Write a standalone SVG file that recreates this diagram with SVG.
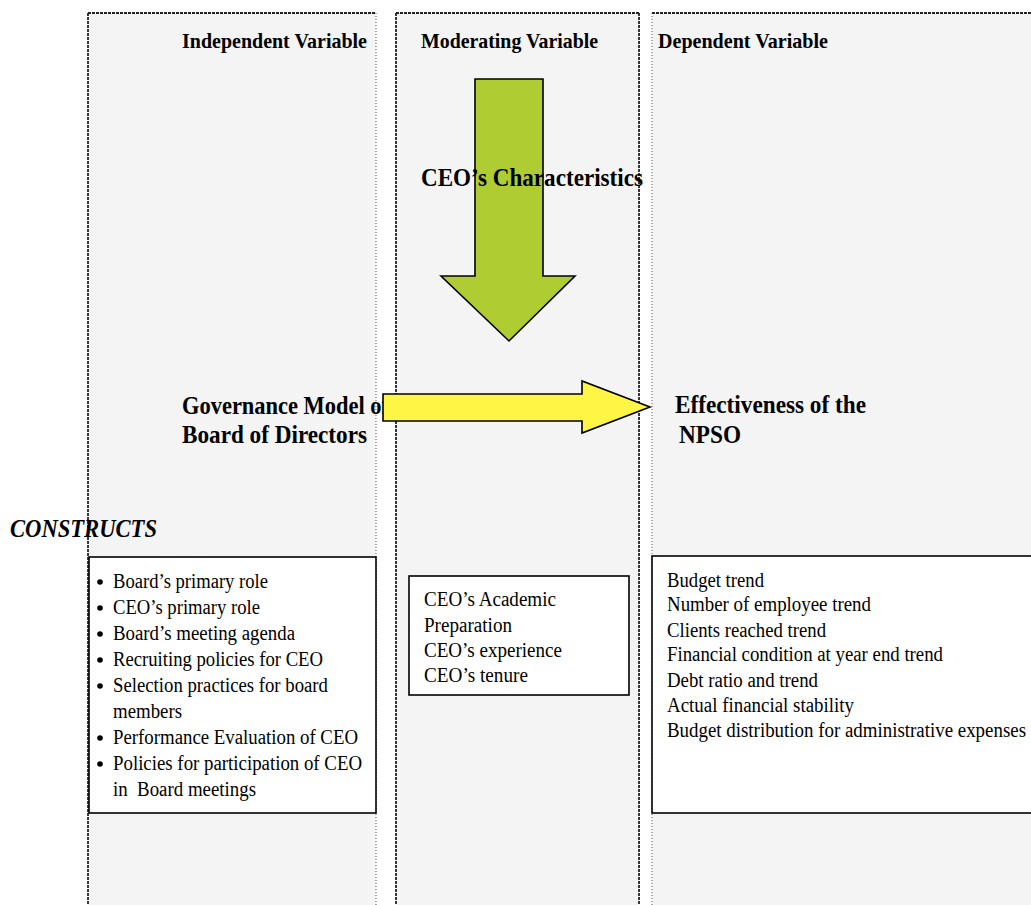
<svg xmlns="http://www.w3.org/2000/svg" width="1031" height="905" viewBox="0 0 1031 905">
<style>
.col{fill:#f4f4f4;stroke:none}
.edgeH{stroke:#222;stroke-width:1.8;stroke-dasharray:3 1;fill:none}
.edgeL{stroke:#555;stroke-width:1;stroke-dasharray:1 2;fill:none}
.hdr{font-family:"Liberation Serif",serif;font-weight:bold;font-size:21px;fill:#000}
.big{font-family:"Liberation Serif",serif;font-weight:bold;font-size:25px;fill:#000}
.body{font-family:"Liberation Serif",serif;font-size:20.5px;fill:#000}
.box{fill:#fff;stroke:#000;stroke-width:1.6}
</style>
<rect width="1031" height="905" fill="#fff"/>
<g id="col-independent">
<rect class="col" x="88" y="13" width="288" height="900"/>
<line class="edgeH" x1="88" y1="13" x2="376" y2="13"/>
<line class="edgeH" x1="88" y1="13" x2="88" y2="905"/>
<line class="edgeL" x1="376" y1="13" x2="376" y2="905"/>
<text class="hdr" x="182" y="48" textLength="185" lengthAdjust="spacingAndGlyphs">Independent Variable</text>
</g>
<g id="col-moderating">
<rect class="col" x="396" y="13" width="243" height="900"/>
<line class="edgeH" x1="396" y1="13" x2="639" y2="13"/>
<line class="edgeH" x1="396" y1="13" x2="396" y2="905"/>
<line class="edgeH" x1="639" y1="13" x2="639" y2="905"/>
<text class="hdr" x="421" y="48" textLength="177" lengthAdjust="spacingAndGlyphs">Moderating Variable</text>
</g>
<g id="col-dependent">
<rect class="col" x="652" y="13" width="390" height="900"/>
<line class="edgeH" x1="652" y1="13" x2="1040" y2="13"/>
<line class="edgeL" x1="652" y1="13" x2="652" y2="905"/>
<text class="hdr" x="658" y="48" textLength="170" lengthAdjust="spacingAndGlyphs">Dependent Variable</text>
</g>
<g id="ceo-characteristics">
<polygon points="475,79 543,79 543,276 575,276 509,341 441,276 475,276" fill="#afcd32" stroke="#000" stroke-width="1.6"/>
<text class="big" x="421" y="186" textLength="222" lengthAdjust="spacingAndGlyphs">CEO’s Characteristics</text>
</g>
<g id="governance">
<text class="big" x="182" y="414" textLength="207" lengthAdjust="spacingAndGlyphs">Governance Model of</text>
<text class="big" x="182" y="443" textLength="185" lengthAdjust="spacingAndGlyphs">Board of Directors</text>
</g>
<g id="effectiveness">
<text class="big" x="675" y="413" textLength="191" lengthAdjust="spacingAndGlyphs">Effectiveness of the</text>
<text class="big" x="679" y="443" textLength="62" lengthAdjust="spacingAndGlyphs">NPSO</text>
</g>
<g id="connectors">
<polygon points="383,394 582,394 582,381 650,407 582,433 582,421 383,421" fill="#fff544" stroke="#000" stroke-width="1.6"/>
</g>
<g id="constructs-label">
<text x="10" y="537" font-family="Liberation Serif, serif" font-weight="bold" font-style="italic" font-size="25" textLength="147" lengthAdjust="spacingAndGlyphs">CONSTRUCTS</text>
</g>
<g id="independent-constructs">
<rect class="box" x="89" y="557" width="287" height="256"/>
<g fill="#000">
<circle cx="100" cy="582" r="2.8"/>
<circle cx="100" cy="608" r="2.8"/>
<circle cx="100" cy="634" r="2.8"/>
<circle cx="100" cy="660" r="2.8"/>
<circle cx="100" cy="686" r="2.8"/>
<circle cx="100" cy="738" r="2.8"/>
<circle cx="100" cy="764" r="2.8"/>
</g>
<text class="body" x="113" y="588" textLength="155" lengthAdjust="spacingAndGlyphs">Board’s primary role</text>
<text class="body" x="113" y="614" textLength="147" lengthAdjust="spacingAndGlyphs">CEO’s primary role</text>
<text class="body" x="113" y="640" textLength="182" lengthAdjust="spacingAndGlyphs">Board’s meeting agenda</text>
<text class="body" x="113" y="666" textLength="210" lengthAdjust="spacingAndGlyphs">Recruiting policies for CEO</text>
<text class="body" x="113" y="692" textLength="215" lengthAdjust="spacingAndGlyphs">Selection practices for board</text>
<text class="body" x="113" y="718" textLength="69" lengthAdjust="spacingAndGlyphs">members</text>
<text class="body" x="113" y="744" textLength="245" lengthAdjust="spacingAndGlyphs">Performance Evaluation of CEO</text>
<text class="body" x="113" y="770" textLength="249" lengthAdjust="spacingAndGlyphs">Policies for participation of CEO</text>
<text class="body" x="113" y="796" textLength="143" lengthAdjust="spacingAndGlyphs" xml:space="preserve">in  Board meetings</text>
</g>
<g id="moderating-constructs">
<rect class="box" x="409" y="576" width="220" height="119"/>
<text class="body" x="424" y="606" textLength="132" lengthAdjust="spacingAndGlyphs">CEO’s Academic</text>
<text class="body" x="424" y="632" textLength="88" lengthAdjust="spacingAndGlyphs">Preparation</text>
<text class="body" x="424" y="657" textLength="138" lengthAdjust="spacingAndGlyphs">CEO’s experience</text>
<text class="body" x="424" y="682" textLength="104" lengthAdjust="spacingAndGlyphs">CEO’s tenure</text>
</g>
<g id="dependent-constructs">
<rect class="box" x="652" y="556" width="390" height="257"/>
<text class="body" x="667" y="587" textLength="97" lengthAdjust="spacingAndGlyphs">Budget trend</text>
<text class="body" x="667" y="611" textLength="204" lengthAdjust="spacingAndGlyphs">Number of employee trend</text>
<text class="body" x="667" y="637" textLength="159" lengthAdjust="spacingAndGlyphs">Clients reached trend</text>
<text class="body" x="667" y="661" textLength="276" lengthAdjust="spacingAndGlyphs">Financial condition at year end trend</text>
<text class="body" x="667" y="687" textLength="151" lengthAdjust="spacingAndGlyphs">Debt ratio and trend</text>
<text class="body" x="667" y="712" textLength="187" lengthAdjust="spacingAndGlyphs">Actual financial stability</text>
<text class="body" x="667" y="737" textLength="359" lengthAdjust="spacingAndGlyphs">Budget distribution for administrative expenses</text>
</g>
</svg>
